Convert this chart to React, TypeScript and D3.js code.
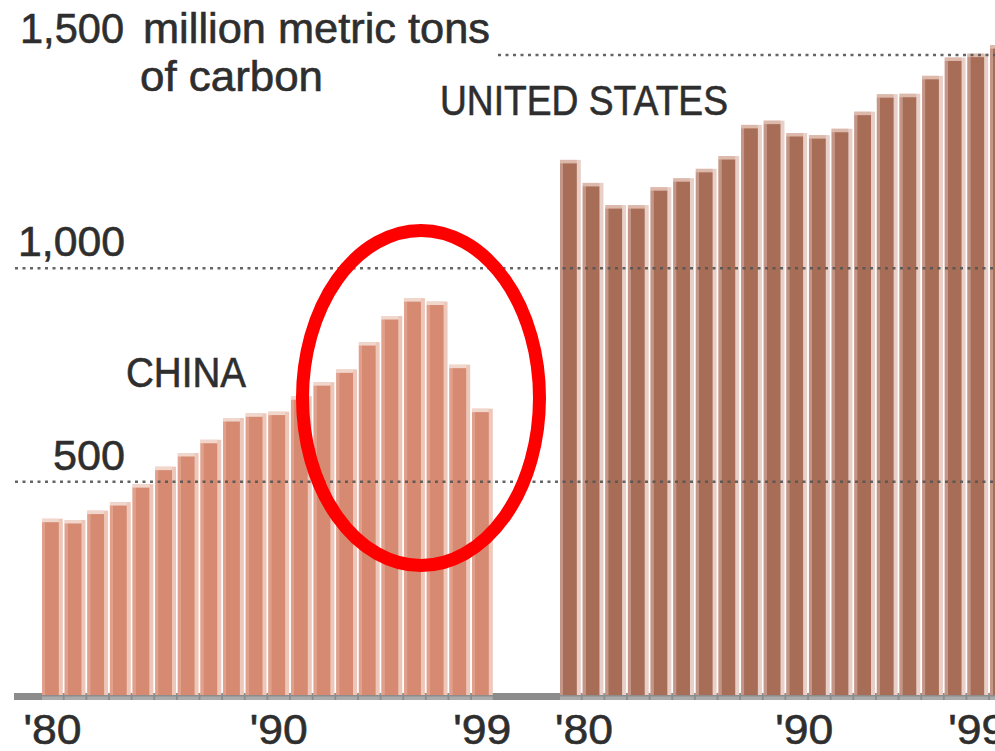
import React from "react";
import * as d3 from "d3";

// Carbon emissions, million metric tons of carbon
const years = d3.range(1980, 2000);
const chinaValues = [405, 402, 424, 444, 486, 527, 559, 590, 641, 652, 656, 692, 725, 755, 819, 880, 922, 914, 766, 663];
const usValues = [1246, 1192, 1140, 1140, 1182, 1203, 1225, 1255, 1328, 1338, 1309, 1304, 1319, 1359, 1400, 1401, 1443, 1486, 1495, 1515];

const yTicks = [500, 1000, 1500];
const yTickLabels = ["500", "1,000", "1,500"];
const xTickYears = [1980, 1990, 1999];
const xTickLabels = ["'80", "'90", "'99"];

const W = 995;
const H = 751;
const FONT = "'Liberation Sans', Arial, Helvetica, sans-serif";
const INK = "#2e2e2e";

const china = { main: "#D58A71", left: "#E1A08C", right: "#EDC7B9", top: "#F1D6CC" };
const us = { main: "#A86D57", left: "#C49688", right: "#E8D0C8", top: "#DDB9AC" };

const y = d3.scaleLinear().domain([0, 1500]).range([695, 55]);
const xChina = d3.scaleBand<number>().domain(years).range([42, 492.8]).paddingInner(0.08);
const xUS = d3.scaleBand<number>().domain(years).range([560, 1010.8]).paddingInner(0.08);

// US year labels sit slightly off the bar centres in this layout
const usLabelX = d3
  .scaleLinear()
  .domain([1980, 1990, 1999])
  .range([
    (xUS(1980) as number) + xUS.bandwidth() / 2 + 13.5,
    (xUS(1990) as number) + xUS.bandwidth() / 2 + 7.5,
    (xUS(1999) as number) + xUS.bandwidth() / 2 - 23,
  ]);

const textStyle = { fontSize: 42, fill: INK, stroke: INK, strokeWidth: 0.6 };

function Bars({ values, x, c }: { values: number[]; x: d3.ScaleBand<number>; c: typeof china }) {
  const bw = x.bandwidth();
  const base = y(0);
  return (
    <g>
      {values.map((v, i) => {
        const x0 = x(years[i]) as number;
        const top = y(v);
        return (
          <g key={years[i]}>
            <rect x={x0} y={top - 3.5} width={bw} height={base - top + 3.5} fill={c.right} />
            <rect x={x0} y={top - 3.5} width={bw - 4} height={4} fill={c.top} />
            <rect x={x0} y={top} width={3} height={base - top} fill={c.left} />
            <rect x={x0 + 3} y={top} width={bw - 7} height={base - top} fill={c.main} />
            <rect x={x0} y={base + 1.5} width={bw} height={3.5} fill="#ababab" />
          </g>
        );
      })}
    </g>
  );
}

export default function App() {
  const gridStart = (v: number) => (v === 1500 ? 498 : 15);
  const yLabelX: Record<string, number> = { "500": 53, "1,000": 18, "1,500": 20 };
  const yLabelW: Record<string, number> = { "500": 72, "1,000": 107, "1,500": 104 };
  return (
    <svg
      width={W}
      height={H}
      viewBox={`0 0 ${W} ${H}`}
      style={{ position: "absolute", left: 0, top: 0, background: "#fff" }}
      fontFamily={FONT}
    >
      {/* baseline */}
      <rect x={14} y={693} width={W - 14} height={7} fill="#8c8c8c" />

      <Bars values={chinaValues} x={xChina} c={china} />
      <Bars values={usValues} x={xUS} c={us} />

      {/* dotted gridlines over the bars */}
      {yTicks.map((t) => (
        <line
          key={t}
          x1={gridStart(t)}
          x2={W}
          y1={y(t)}
          y2={y(t)}
          stroke="#555"
          strokeWidth={2.5}
          strokeDasharray="3 4.5"
          opacity={0.9}
        />
      ))}

      {/* y tick labels */}
      {yTicks.map((t, i) => {
        const label = yTickLabels[i];
        return (
          <text
            key={t}
            x={yLabelX[label]}
            y={y(t) - 12}
            {...textStyle}
            textLength={yLabelW[label]}
            lengthAdjust="spacingAndGlyphs"
          >
            {label}
          </text>
        );
      })}

      {/* unit label */}
      <text x={143} y={43} {...textStyle} textLength={347} lengthAdjust="spacingAndGlyphs">
        million metric tons
      </text>
      <text x={140} y={91} {...textStyle} textLength={183} lengthAdjust="spacingAndGlyphs">
        of carbon
      </text>

      {/* series labels */}
      <text x={440} y={115} {...textStyle} textLength={288} lengthAdjust="spacingAndGlyphs">
        UNITED STATES
      </text>
      <text x={126} y={387} {...textStyle} textLength={120} lengthAdjust="spacingAndGlyphs">
        CHINA
      </text>

      {/* x tick labels */}
      {xTickYears.map((yr, i) => (
        <text
          key={"c" + yr}
          x={(xChina(yr) as number) + xChina.bandwidth() / 2}
          y={744}
          {...textStyle}
          textAnchor="middle"
          textLength={58}
          lengthAdjust="spacingAndGlyphs"
        >
          {xTickLabels[i]}
        </text>
      ))}
      {xTickYears.map((yr, i) => (
        <text
          key={"u" + yr}
          x={usLabelX(yr)}
          y={744}
          {...textStyle}
          textAnchor="middle"
          textLength={58}
          lengthAdjust="spacingAndGlyphs"
        >
          {xTickLabels[i]}
        </text>
      ))}

      {/* highlight ring around China's late-1990s bars */}
      <ellipse cx={421} cy={398} rx={118.5} ry={167.5} fill="none" stroke="#ff0000" strokeWidth={13} />
    </svg>
  );
}
